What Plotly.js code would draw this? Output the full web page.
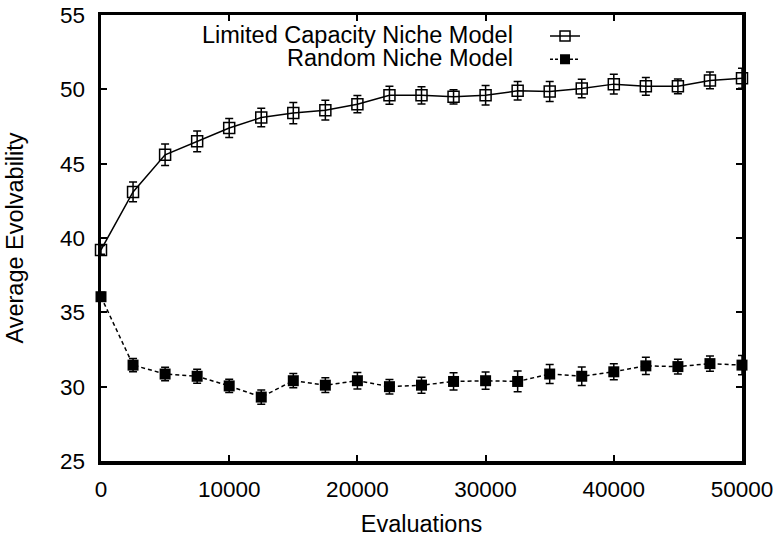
<!DOCTYPE html>
<html>
<head>
<meta charset="utf-8">
<script src="https://cdn.plot.ly/plotly-3.0.1.min.js"></script>
<style>html,body{margin:0;padding:0;background:#fff;}#chart{width:784px;height:537px;}</style>
</head>
<body>
<div id="chart"></div>
<script>
const evaluations = [0, 2500, 5000, 7500, 10000, 12500, 15000, 17500, 20000, 22500, 25000,
  27500, 30000, 32500, 35000, 37500, 40000, 42500, 45000, 47500, 50000];
const limitedCapacity = [39.2, 43.1, 45.6, 46.5, 47.4, 48.1, 48.4, 48.6, 49.0, 49.6, 49.6,
  49.5, 49.6, 49.9, 49.85, 50.05, 50.35, 50.2, 50.2, 50.6, 50.75];
const limitedCapacityErr = [0.3, 0.67, 0.72, 0.7, 0.64, 0.62, 0.72, 0.67, 0.58, 0.6, 0.58,
  0.48, 0.65, 0.62, 0.67, 0.62, 0.67, 0.6, 0.5, 0.56, 0.67];
const randomNiche = [36.05, 31.45, 30.85, 30.7, 30.05, 29.3, 30.4, 30.1, 30.4, 30.0, 30.1,
  30.35, 30.4, 30.35, 30.85, 30.7, 31.0, 31.4, 31.35, 31.55, 31.45];
const randomNicheErr = [0.3, 0.45, 0.46, 0.47, 0.45, 0.48, 0.48, 0.5, 0.56, 0.49, 0.54,
  0.58, 0.58, 0.7, 0.64, 0.62, 0.54, 0.58, 0.5, 0.52, 0.65];
const seriesNames = ['Limited Capacity Niche Model', 'Random Niche Model'];
const xTicks = [0, 10000, 20000, 30000, 40000, 50000];
const yTicks = [25, 30, 35, 40, 45, 50, 55];

const FONT = 'Liberation Sans, Arial, Helvetica, sans-serif';

const traces = [
  {
    x: evaluations, y: limitedCapacity, type: 'scatter', mode: 'lines+markers',
    showlegend: false, cliponaxis: false,
    line: {color: '#000', width: 1.5, dash: 'solid'},
    marker: {symbol: 'square-open', size: 11, color: '#000', line: {width: 1.5, color: '#000'}},
    error_y: {type: 'data', array: limitedCapacityErr, visible: true, color: '#000', thickness: 1.5, width: 4}
  },
  {
    x: evaluations, y: randomNiche, type: 'scatter', mode: 'lines+markers',
    showlegend: false, cliponaxis: false,
    line: {color: '#000', width: 1.5, dash: '4px,3px'},
    marker: {symbol: 'square', size: 11, color: '#000'},
    error_y: {type: 'data', array: randomNicheErr, visible: true, color: '#000', thickness: 1.5, width: 4}
  },
  {
    x: [null], y: [null], type: 'scatter', mode: 'lines+markers', name: ' ', showlegend: true,
    line: {color: '#000', width: 1.5, dash: 'solid'},
    marker: {symbol: 'square-open', size: 10, color: '#000', line: {width: 1.5, color: '#000'}}
  },
  {
    x: [null], y: [null], type: 'scatter', mode: 'lines+markers', name: ' ', showlegend: true,
    line: {color: '#000', width: 1.5, dash: '3px,2px'},
    marker: {symbol: 'square', size: 10, color: '#000'}
  }
];

const layout = {
  width: 784, height: 537,
  margin: {l: 101, r: 42, t: 15, b: 76},
  paper_bgcolor: '#fff', plot_bgcolor: '#fff',
  font: {family: FONT, size: 22, color: '#000'},
  showlegend: true,
  legend: {
    x: 0.6927, y: 0.99, xanchor: 'left', yanchor: 'top',
    bgcolor: 'rgba(0,0,0,0)', borderwidth: 0,
    font: {family: FONT, size: 15.5, color: '#000'},
    tracegroupgap: 0, itemwidth: 30
  },
  xaxis: {
    range: [0, 50000], tickvals: xTicks, ticktext: xTicks.map(String),
    showgrid: false, zeroline: false,
    showline: true, linecolor: '#000', linewidth: 3.5, mirror: 'ticks',
    ticks: 'inside', ticklen: 6, tickwidth: 2, tickcolor: '#000',
    ticklabelstandoff: 5,
    tickfont: {family: FONT, size: 22.5, color: '#000'},
    title: {text: 'Evaluations', font: {family: FONT, size: 23.5, color: '#000'}, standoff: 17}
  },
  yaxis: {
    range: [25, 55], tickvals: yTicks, ticktext: yTicks.map(String),
    showgrid: false, zeroline: false,
    showline: true, linecolor: '#000', linewidth: 3.5, mirror: 'ticks',
    ticks: 'inside', ticklen: 6, tickwidth: 2, tickcolor: '#000',
    ticklabelstandoff: 8,
    tickfont: {family: FONT, size: 22.5, color: '#000'},
    title: {text: 'Average Evolvability', font: {family: FONT, size: 23.5, color: '#000'}, standoff: 30}
  },
  annotations: [
    {xref: 'paper', yref: 'paper', x: 0.646, y: 0.955, xanchor: 'right', yanchor: 'middle',
     text: seriesNames[0], showarrow: false, font: {family: FONT, size: 23.5, color: '#000'}},
    {xref: 'paper', yref: 'paper', x: 0.646, y: 0.9036, xanchor: 'right', yanchor: 'middle',
     text: seriesNames[1], showarrow: false, font: {family: FONT, size: 23.5, color: '#000'}}
  ]
};

Plotly.newPlot('chart', traces, layout, {displayModeBar: false, staticPlot: true});
</script>
</body>
</html>
